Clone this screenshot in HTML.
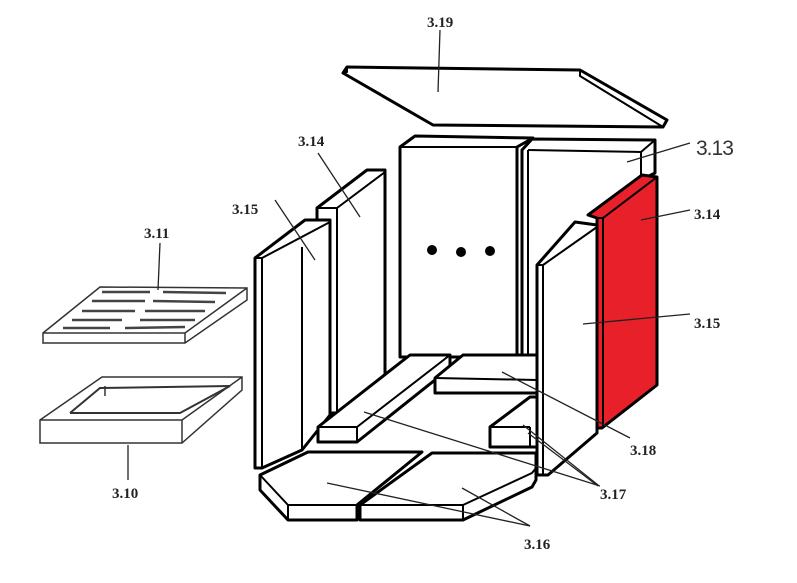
<!DOCTYPE html>
<html><head><style>
html,body{margin:0;padding:0;background:#fff;width:797px;height:583px;overflow:hidden}
text{font-family:"Liberation Serif",serif;font-weight:bold;font-size:15px;fill:#222}
</style></head><body>
<svg width="797" height="583" viewBox="0 0 797 583" xmlns="http://www.w3.org/2000/svg">
<g fill="#fff" stroke="#000" stroke-width="3" stroke-linejoin="round">
<!-- top plate 3.19 -->
<polygon points="343,73 347,67 580,70 667,120 663,127 433,125"/>
<polyline points="347,67 347,72 343,73" fill="none" stroke-width="2"/>
<polyline points="580,70 580,76 663,127" fill="none" stroke-width="2"/>
<!-- back walls -->
<polygon points="400,147 415,136 533,138 517,147 517,357 400,357"/>
<line x1="400" y1="147" x2="517" y2="147" stroke-width="2"/>
<polygon points="522,150 532,139 655,140 655,173 641,180 641,355 522,355"/>
<line x1="528" y1="150" x2="641" y2="152" stroke-width="2"/>
<line x1="641" y1="152" x2="655" y2="140" stroke-width="2"/>
<line x1="528" y1="150" x2="528" y2="355" stroke-width="2"/>
<line x1="641" y1="152" x2="641" y2="180" stroke-width="2"/>
<!-- red panel 3.14 right -->
<polygon points="588,215 642,175 657,177 657,385 602,428 597,428 597,218" fill="#e8202a"/>
<line x1="597" y1="218" x2="603" y2="218" stroke-width="2"/>
<line x1="603" y1="218" x2="603" y2="428" stroke-width="2"/>
<line x1="603" y1="218" x2="657" y2="177" stroke-width="2"/>
<!-- left 3.14 -->
<polygon points="317,208 367,170 385,170 385,375 337,413 317,413"/>
<line x1="337" y1="208" x2="337" y2="413" stroke-width="2"/>
<line x1="337" y1="208" x2="385" y2="172" stroke-width="2"/>
<line x1="317" y1="208" x2="337" y2="208" stroke-width="2"/>
<!-- left 3.15 -->
<polygon points="255,258 305,220 330,220 330,415 302,450 262,468 255,468"/>
<line x1="262" y1="258" x2="262" y2="468" stroke-width="2"/>
<line x1="262" y1="258" x2="330" y2="222" stroke-width="2"/>
<line x1="302" y1="247" x2="302" y2="450" stroke-width="2"/>
<line x1="255" y1="258" x2="262" y2="258" stroke-width="2"/>
<!-- floor bricks -->
<polygon points="318,427 410,355 450,355 450,368 357,442 318,442"/>
<polyline points="318,427 357,427 450,355" fill="none" stroke-width="2"/>
<line x1="357" y1="427" x2="357" y2="442" stroke-width="2"/>
<polygon points="435,378 463,355 537,355 537,393 435,393"/>
<line x1="435" y1="378" x2="537" y2="380" stroke-width="2"/>
<polygon points="490,427 530,397 537,397 537,447 490,447"/>
<line x1="490" y1="427" x2="530" y2="427" stroke-width="2"/>
<line x1="530" y1="427" x2="530" y2="447" stroke-width="2"/>
<!-- right 3.15 -->
<polygon points="537,265 575,222 597,225 597,433 548,475 537,475"/>
<line x1="543" y1="265" x2="543" y2="475" stroke-width="2"/>
<line x1="537" y1="265" x2="543" y2="265" stroke-width="2"/>
<line x1="543" y1="265" x2="597" y2="227" stroke-width="2"/>
<!-- floor plates 3.16 -->
<polygon points="260,475 308,452 422,452 357,505 357,520 288,520 260,490"/>
<polyline points="260,475 288,505 357,505" fill="none" stroke-width="2"/>
<line x1="288" y1="505" x2="288" y2="520" stroke-width="2"/>
<polygon points="360,505 432,453 536,453 536,480 532,487 463,520 360,520"/>
<polyline points="360,505 463,505 532,473 536,468" fill="none" stroke-width="2"/>
<line x1="463" y1="505" x2="463" y2="520" stroke-width="2"/>
</g>
<circle cx="432" cy="250" r="5"/><circle cx="461" cy="252" r="5"/><circle cx="490" cy="251" r="5"/>
<g fill="#fff" stroke="#333" stroke-width="1.5">
<polygon points="43,333 100,287 247,288 247,300 185,343 43,343"/>
<polyline points="43,333 185,333 247,288" fill="none"/>
<line x1="185" y1="333" x2="185" y2="343"/>
<g stroke="#444" stroke-width="2.5">
<line x1="102" y1="292" x2="150" y2="292"/><line x1="163" y1="292" x2="226" y2="293"/>
<line x1="92" y1="301" x2="145" y2="301"/><line x1="153" y1="301" x2="215" y2="302"/>
<line x1="82" y1="311" x2="135" y2="311"/><line x1="145" y1="311" x2="205" y2="311"/>
<line x1="72" y1="320" x2="122" y2="320"/><line x1="140" y1="320" x2="195" y2="320"/>
<line x1="63" y1="328" x2="110" y2="328"/><line x1="125" y1="328" x2="185" y2="327"/>
</g>
<polygon points="40,420 102,377 242,377 242,390 182,443 40,443"/>
<polyline points="40,420 182,420 242,377" fill="none"/>
<line x1="182" y1="420" x2="182" y2="443"/>
<polyline points="70,413 100,388 230,386 180,413 70,413" fill="none" stroke-width="2"/>
<line x1="105" y1="386" x2="105" y2="396" />
</g>
<g stroke="#222" stroke-width="1.3" fill="none">
<line x1="440" y1="30" x2="438" y2="92"/>
<line x1="627" y1="162" x2="690" y2="143"/>
<line x1="641" y1="220" x2="690" y2="210"/>
<line x1="583" y1="324" x2="690" y2="314"/>
<line x1="502" y1="372" x2="630" y2="438"/>
<line x1="364" y1="412" x2="600" y2="486"/>
<line x1="523" y1="425" x2="598" y2="485"/>
<line x1="528" y1="433" x2="598" y2="486"/>
<line x1="327" y1="483" x2="530" y2="526"/>
<line x1="462" y1="488" x2="530" y2="526"/>
<line x1="318" y1="153" x2="360" y2="217"/>
<line x1="275" y1="200" x2="315" y2="260"/>
<line x1="160" y1="243" x2="158" y2="290"/>
<line x1="128" y1="445" x2="128" y2="480"/>
</g>
<text x="427" y="27">3.19</text>
<text x="298" y="146">3.14</text>
<text x="232" y="214">3.15</text>
<text x="144" y="238">3.11</text>
<text x="112" y="498">3.10</text>
<text x="696" y="155" style="font-family:'Liberation Sans',sans-serif;font-weight:normal;font-size:21px;fill:#333;letter-spacing:-1px">3.13</text>
<text x="694" y="219">3.14</text>
<text x="694" y="328">3.15</text>
<text x="630" y="455">3.18</text>
<text x="600" y="499">3.17</text>
<text x="524" y="549">3.16</text>
</svg>
</body></html>
